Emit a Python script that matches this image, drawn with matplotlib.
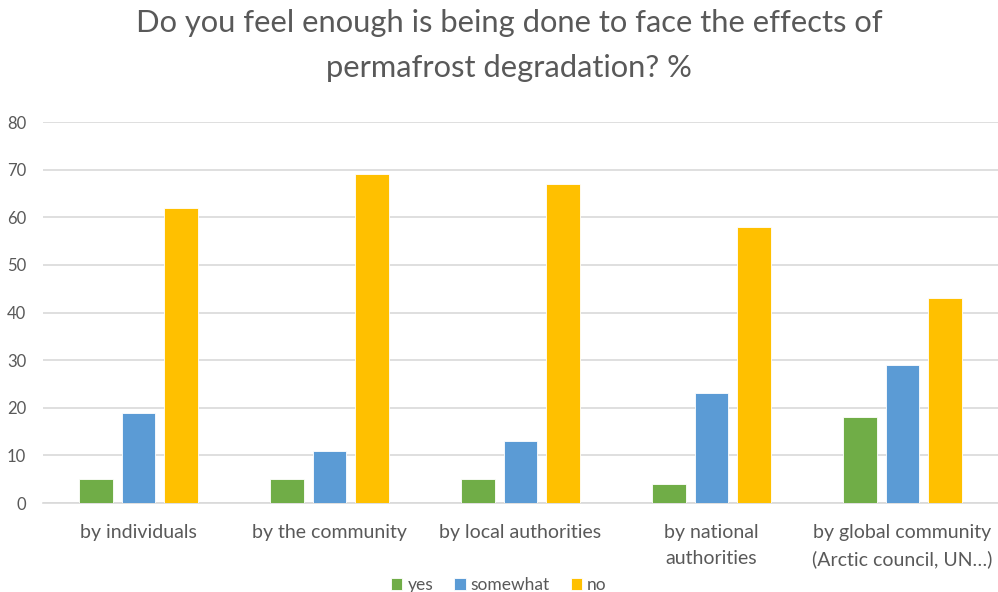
import numpy as np
import matplotlib.pyplot as plt

# data
categories = ['by individuals', 'by the community', 'by local authorities',
              'by national\nauthorities', 'by global community\n(Arctic council, UN…)']
yes = [5, 5, 5, 4, 18]
somewhat = [19, 11, 13, 23, 29]
no = [62, 69, 67, 58, 43]

plt.rcParams['font.family'] = ['Lato', 'DejaVu Sans']
text_col = '#595959'

fig = plt.figure(figsize=(9.98, 5.92), dpi=100)
ax = fig.add_axes([43 / 998, 89 / 592, 955 / 998, 381 / 592])

x = np.arange(len(categories))
w = 0.178
off = 0.222
ax.bar(x - off, yes, w, color='#70AD47', edgecolor='white', linewidth=0.6, label='yes', zorder=3)
ax.bar(x, somewhat, w, color='#5B9BD5', edgecolor='white', linewidth=0.6, label='somewhat', zorder=3)
ax.bar(x + off, no, w, color='#FFC000', edgecolor='white', linewidth=0.6, label='no', zorder=3)

ax.set_xlim(-0.5, 4.5)
ax.set_ylim(0, 80)
ax.set_yticks(range(0, 81, 10))
ax.yaxis.grid(True, color='#D9D9D9', linewidth=1.2, zorder=0)
for s in ['left', 'right', 'top']:
    ax.spines[s].set_visible(False)
ax.spines['bottom'].set_color('#D9D9D9')
ax.spines['bottom'].set_linewidth(1.2)
ax.tick_params(axis='y', length=0, pad=12, labelsize=12, labelcolor=text_col)
ax.tick_params(axis='x', length=0, pad=15, labelsize=14, labelcolor=text_col)
ax.set_xticks(x)
ax.set_xticklabels(categories, linespacing=1.65)

fig.suptitle('Do you feel enough is being done to face the effects of\npermafrost degradation? %',
             x=0.51, y=0.985, fontsize=22.2, color=text_col, linespacing=1.75)

leg = fig.legend(loc='lower center', bbox_to_anchor=(0.5, -0.028), ncol=3, frameon=False,
                 fontsize=12.5, handlelength=0.65, handleheight=0.65, handletextpad=0.3,
                 columnspacing=1.2)
for t in leg.get_texts():
    t.set_color(text_col)

fig.savefig('out.png', dpi=100)
